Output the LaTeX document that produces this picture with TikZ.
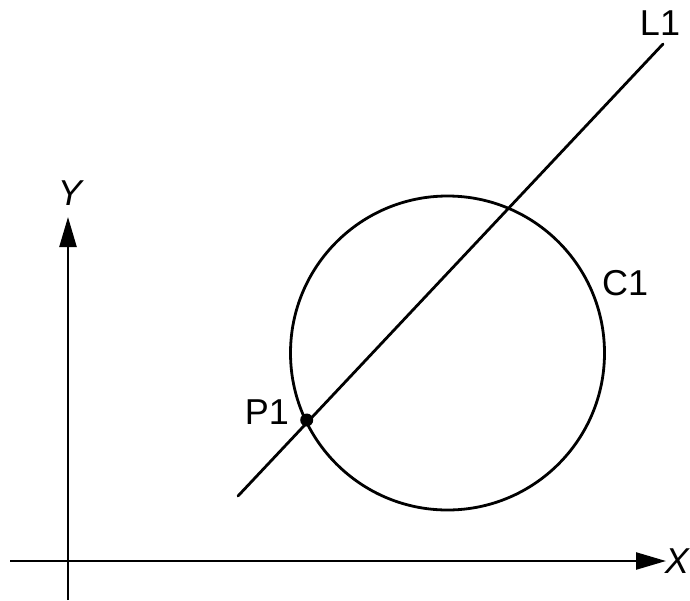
\documentclass[tikz,border=0pt]{standalone}
\usepackage{fontspec}
\setmainfont{Liberation Sans}
\usetikzlibrary{arrows.meta}
\begin{document}
\begin{tikzpicture}[x=1pt,y=-1pt,
  stroke/.style={line width=2.8pt},
  axis/.style={line width=2.4pt,-{Triangle[length=30pt,width=17pt]}},
  lbl/.style={inner sep=0pt,font=\fontsize{36}{36}\selectfont},
  axlbl/.style={inner sep=0pt,font=\fontsize{36}{36}\selectfont\itshape}]
\useasboundingbox (0,0) rectangle (690,600);
% axes
\coordinate (xs) at (10,561);
\coordinate (xe) at (666,561);
\coordinate (ys) at (68,600);
\coordinate (ye) at (68,217);
\draw[axis] (xs) -- (xe);
\draw[axis] (ys) -- (ye);
\node[axlbl,anchor=east] (Xl) at (689,561) {X};
\node[axlbl] (Yl) at (70,193) {Y};
% circle C1
\coordinate (c) at (447.5,353);
\draw[stroke] (c) circle[radius=157];
\node[lbl,anchor=west] (C1l) at (602,283) {C1};
% line L1
\coordinate (La) at (238,496);
\coordinate (Lb) at (663,44);
\draw[stroke,line cap=round] (La) -- (Lb);
\node[lbl] (L1l) at (660,23) {L1};
% point P1
\node[circle,fill=black,inner sep=0pt,minimum size=13pt] (P1) at (306.7,420) {};
\node[lbl] (P1l) at (267,412) {P1};
\end{tikzpicture}
\end{document}
